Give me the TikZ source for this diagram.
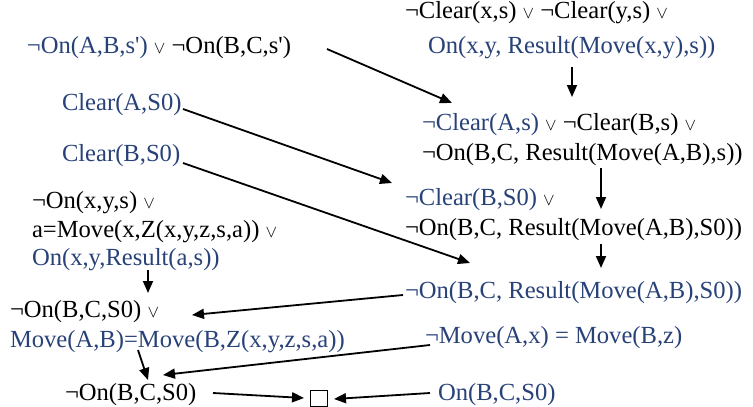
\documentclass[tikz,border=0pt]{standalone}
\usepackage{fontspec}
\setmainfont{Liberation Serif}[Ligatures=TeXOff]
\usetikzlibrary{arrows.meta}
\definecolor{clblue}{RGB}{40,66,120}
\newcommand{\myor}{{\fontsize{17}{17}\selectfont$\vee$}}
\newcommand{\bl}[1]{\textcolor{clblue}{#1}}
\begin{document}
\begin{tikzpicture}[x=1pt,y=-1pt,
  txt/.style={anchor=base west,inner sep=0pt,outer sep=0pt,font=\fontsize{24.6}{29}\selectfont},
  btxt/.style={txt,text=clblue},
  arr/.style={line width=1.8pt,-{Triangle[length=12pt,width=10pt]}}]
\useasboundingbox (0,0) rectangle (753,407);
% right column
\node[txt]  (n1)  at (27,53)  {\bl{¬On(A,B,s')} \myor{} ¬On(B,C,s')};
\node[txt]  (r1a) at (405,18) {¬Clear(x,s) \myor{} ¬Clear(y,s) \myor};
\node[btxt] (r1b) at (428,53) {On(x,y, Result(Move(x,y),s))};
\node[txt]  (r2a) at (422,130) {\bl{¬Clear(A,s)} \myor{} ¬Clear(B,s) \myor};
\node[txt]  (r2b) at (422,160) {¬On(B,C, Result(Move(A,B),s))};
\node[txt]  (r3a) at (405,205) {\bl{¬Clear(B,S0)} \myor};
\node[txt]  (r3b) at (405,235) {¬On(B,C, Result(Move(A,B),S0))};
\node[btxt] (r4)  at (405,298) {¬On(B,C, Result(Move(A,B),S0))};
\node[btxt] (r5)  at (425,343) {¬Move(A,x) = Move(B,z)};
\node[btxt] (r6)  at (438,400) {On(B,C,S0)};
% left column
\node[btxt] (ca)  at (62,110) {Clear(A,S0)};
\node[btxt] (cb)  at (62,161) {Clear(B,S0)};
\node[txt]  (l1a) at (32,208) {¬On(x,y,s) \myor};
\node[txt]  (l1b) at (32,237) {a=Move(x,Z(x,y,z,s,a)) \myor};
\node[btxt] (l1c) at (32,265) {On(x,y,Result(a,s))};
\node[txt]  (l2a) at (10,317) {¬On(B,C,S0) \myor};
\node[btxt] (l2b) at (10,347) {Move(A,B)=Move(B,Z(x,y,z,s,a))};
\node[txt]  (l3)  at (65,400) {¬On(B,C,S0)};
\node[draw,line width=0.8pt,minimum width=17pt,minimum height=16pt,inner sep=0pt] (box) at (319,398.5) {};
% connector ends
\coordinate (a1s) at (327,49);  \coordinate (a1e) at (452,103);
\coordinate (a2s) at (572,67);  \coordinate (a2e) at (572,97);
\coordinate (a3s) at (183,109); \coordinate (a3e) at (392,183);
\coordinate (a4s) at (601,168); \coordinate (a4e) at (601,209);
\coordinate (a5s) at (183,163); \coordinate (a5e) at (470,263);
\coordinate (a6s) at (601,244); \coordinate (a6e) at (601,268);
\coordinate (a7s) at (403,295); \coordinate (a7e) at (192,315);
\coordinate (a8s) at (148,270); \coordinate (a8e) at (148,293);
\coordinate (a9s) at (430,345); \coordinate (a9e) at (163,375);
\coordinate (a10s) at (138,350); \coordinate (a10e) at (148,380);
\coordinate (a11s) at (213,393); \coordinate (a11e) at (304,398);
\coordinate (a12s) at (430,393); \coordinate (a12e) at (334,399);
\draw[arr] (a1s) -- (a1e);
\draw[arr] (a2s) -- (a2e);
\draw[arr] (a3s) -- (a3e);
\draw[arr] (a4s) -- (a4e);
\draw[arr] (a5s) -- (a5e);
\draw[arr] (a6s) -- (a6e);
\draw[arr] (a7s) -- (a7e);
\draw[arr] (a8s) -- (a8e);
\draw[arr] (a9s) -- (a9e);
\draw[arr] (a10s) -- (a10e);
\draw[arr] (a11s) -- (a11e);
\draw[arr] (a12s) -- (a12e);
\end{tikzpicture}
\end{document}
